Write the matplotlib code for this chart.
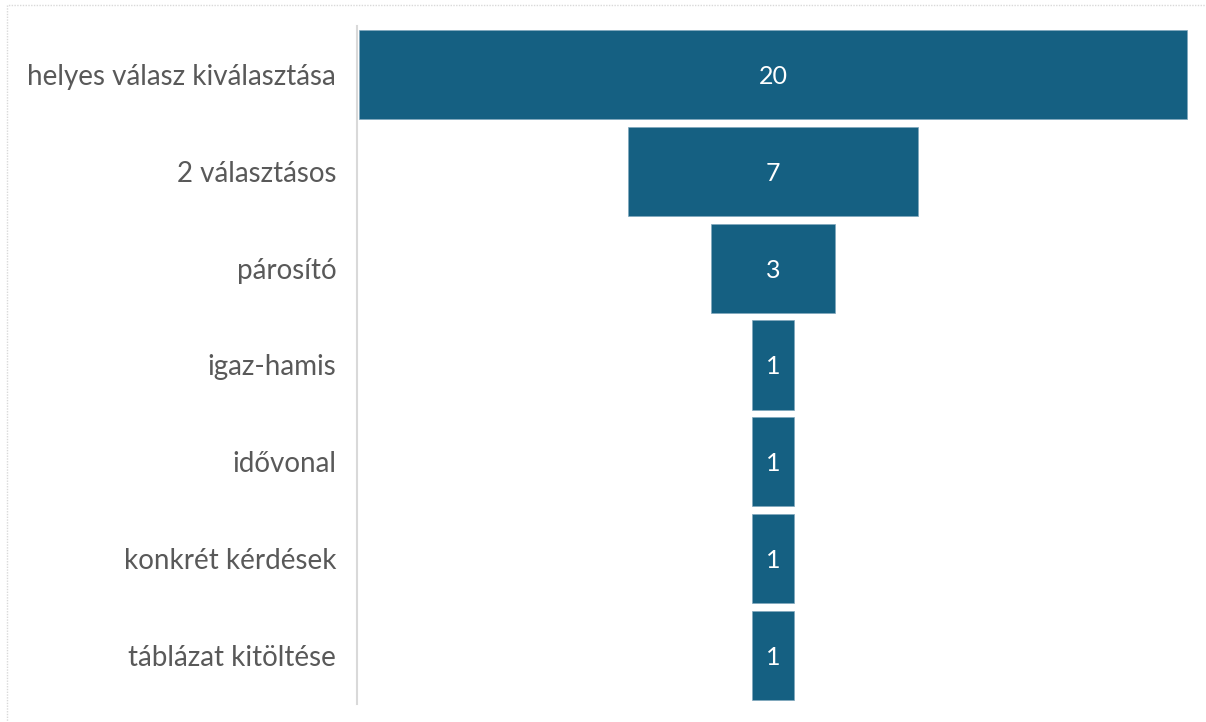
import matplotlib
matplotlib.use("Agg")
import matplotlib.pyplot as plt
from matplotlib.patches import Rectangle

categories = ["helyes válasz kiválasztása", "2 választásos", "párosító", "igaz-hamis",
              "idővonal", "konkrét kérdések", "táblázat kitöltése"]
values = [20, 7, 3, 1, 1, 1, 1]

W, H = 1206, 722
fig = plt.figure(figsize=(W / 100, H / 100), dpi=100)
plt.rcParams['font.family'] = ['Lato', 'DejaVu Sans']

ax = fig.add_axes([357 / W, 18 / H, 832 / W, 678 / H])
ypos = list(range(len(categories)))
lefts = [-v / 2 for v in values]
bars = ax.barh(ypos, values, left=lefts, height=0.92, color="#156082",
               edgecolor="#7fa7bd", linewidth=0.5)
for y, v in zip(ypos, values):
    ax.text(0, y + 0.02, str(v), ha="center", va="center", color="white", fontsize=18)

ax.set_xlim(-10.06, 10.06)
ax.set_ylim(len(categories) - 0.5, -0.5)
ax.set_yticks(ypos)
ax.set_yticklabels(categories, fontsize=20, color="#595959")
ax.tick_params(axis="y", length=0, pad=15)
ax.set_xticks([])
for s in ["top", "right", "bottom"]:
    ax.spines[s].set_visible(False)
ax.spines["left"].set_color("#d9d9d9")
ax.spines["left"].set_linewidth(1.5)

border = Rectangle((7 / W, -0.05), 1.2, 1 - 5 / H + 0.05, transform=fig.transFigure,
                   fill=False, edgecolor="#d9d9d9", linewidth=1, linestyle=(0, (1, 1)))
fig.add_artist(border)

fig.savefig("out.png", dpi=100)
